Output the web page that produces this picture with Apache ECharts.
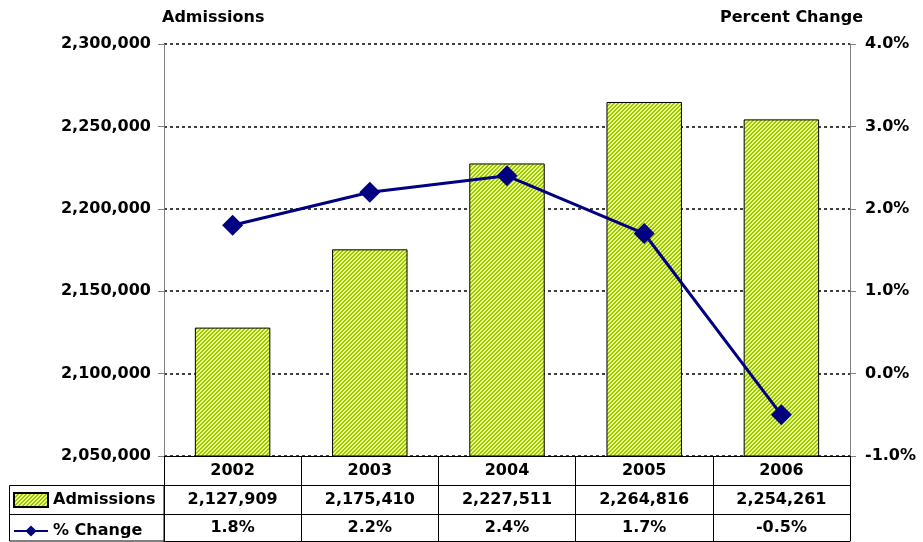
<!DOCTYPE html>
<html><head><meta charset="utf-8">
<script src="https://cdn.jsdelivr.net/npm/echarts@6/dist/echarts.min.js"></script>
<style>html,body{margin:0;padding:0;background:#fff}#c{width:923px;height:542px}</style>
</head><body><div id="c"></div>
<script>
const years = ['2002','2003','2004','2005','2006'];
const admissions = [2127909, 2175410, 2227511, 2264816, 2254261];
const pctChange = [1.8, 2.2, 2.4, 1.7, -0.5];
const leftTicks = {min: 2050000, max: 2300000, interval: 50000};
const rightTicks = {min: -1, max: 4, interval: 1};

const fmtNum = v => v.toLocaleString('en-US');
const fmtPct = v => v.toFixed(1) + '%';

// hatched pattern
const pc = document.createElement('canvas');
pc.width = 4; pc.height = 4;
const pctx = pc.getContext('2d');
pctx.fillStyle = '#EEF78E';
pctx.fillRect(0,0,4,4);
pctx.fillStyle = '#99CC00';
for (let x=0;x<4;x++) for (let y=0;y<4;y++) { if ((x+y)%4 < 2) pctx.fillRect(x,y,1,1); }
const pattern = {image: pc, repeat: 'repeat'};

const FONT = 'DejaVu Sans';
const lbl = {fontFamily: FONT, fontWeight: 'bold', fontSize: 16, color: '#000'};

const chart = echarts.init(document.getElementById('c'), null, {renderer: 'canvas'});
chart.setOption({
  animation: false,
  title: [
    {text: 'Admissions', left: 157, top: 5, textStyle: lbl},
    {text: 'Percent Change', right: 55, top: 5, textStyle: lbl}
  ],
  legend: {
    data: [{name: 'Admissions', icon: 'rect'}, {name: '% Change'}],
    orient: 'vertical', left: 13, top: 492,
    itemWidth: 34, itemHeight: 14, itemGap: 15,
    textStyle: lbl, padding: 0
  },
  grid: {left: 164, right: 73, top: 44, bottom: 86},
  xAxis: [
    {type: 'category', data: years, position: 'bottom',
     axisLine: {onZero: false, lineStyle: {color: '#000', width: 1}},
     axisTick: {show: true, length: 29, lineStyle: {color: '#000'}},
     axisLabel: Object.assign({margin: 7}, lbl)},
    {type: 'category', data: admissions.map(fmtNum), position: 'bottom', offset: 29,
     axisLine: {onZero: false, lineStyle: {color: '#000', width: 1}},
     axisTick: {show: true, length: 29, lineStyle: {color: '#000'}},
     axisLabel: Object.assign({margin: 7}, lbl)},
    {type: 'category', data: pctChange.map(fmtPct), position: 'bottom', offset: 58,
     axisLine: {onZero: false, lineStyle: {color: '#000', width: 1}},
     axisTick: {show: true, length: 27, lineStyle: {color: '#000'}},
     axisLabel: Object.assign({margin: 6}, lbl)},
    {type: 'category', data: years, position: 'bottom', offset: 85,
     axisLine: {onZero: false, lineStyle: {color: '#000', width: 1}},
     axisTick: {show: false}, axisLabel: {show: false}}
  ],
  yAxis: [
    {type: 'value', min: leftTicks.min, max: leftTicks.max, interval: leftTicks.interval,
     axisLine: {show: true, lineStyle: {color: '#808080'}},
     axisTick: {show: true, length: 6, lineStyle: {color: '#808080'}},
     axisLabel: Object.assign({margin: 13, formatter: fmtNum}, lbl),
     splitLine: {show: true, lineStyle: {color: '#000', type: [3,3], width: 1.5}}},
    {type: 'value', min: rightTicks.min, max: rightTicks.max, interval: rightTicks.interval,
     position: 'right',
     axisLine: {show: true, lineStyle: {color: '#808080'}},
     axisTick: {show: true, length: 6, lineStyle: {color: '#808080'}},
     axisLabel: Object.assign({margin: 15, formatter: fmtPct}, lbl),
     splitLine: {show: false}}
  ],
  series: [
    {name: 'Admissions', type: 'bar', data: admissions, xAxisIndex: 0, yAxisIndex: 0,
     barWidth: '55%',
     itemStyle: {color: pattern, borderColor: '#000', borderWidth: 1}},
    {name: '% Change', type: 'line', data: pctChange, xAxisIndex: 0, yAxisIndex: 1,
     symbol: 'diamond', symbolSize: 21,
     lineStyle: {color: '#000080', width: 3},
     itemStyle: {color: '#000080'}, z: 5}
  ],
  graphic: [
    {type: 'rect', shape: {x: 9.5, y: 485.5, width: 154.5, height: 55.5},
     style: {fill: 'none', stroke: '#000', lineWidth: 1}, silent: true},
    {type: 'line', shape: {x1: 9.5, y1: 514.5, x2: 164, y2: 514.5},
     style: {stroke: '#000', lineWidth: 1}, silent: true}
  ]
});
</script></body></html>
